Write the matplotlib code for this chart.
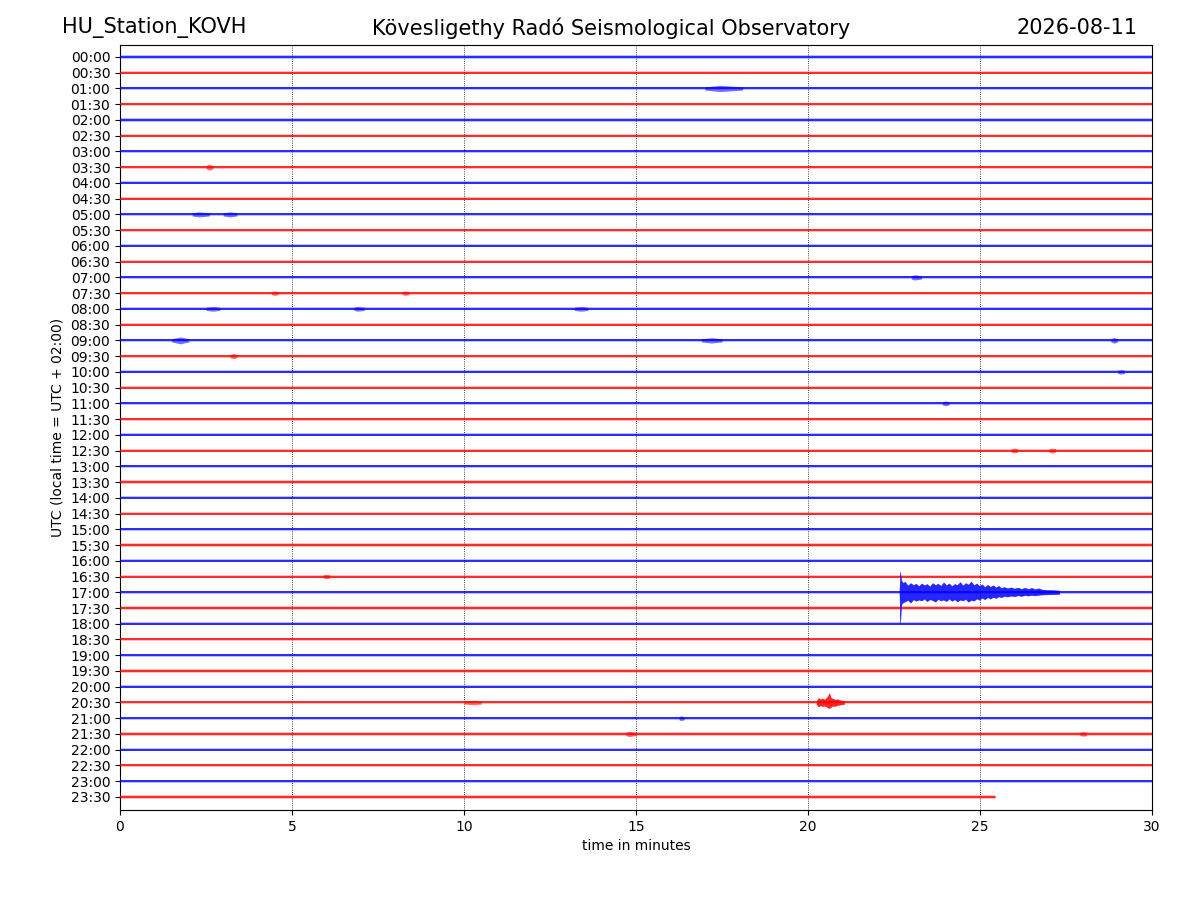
import matplotlib
matplotlib.use("Agg")
import matplotlib.pyplot as plt
import numpy as np

# ---------------- data ----------------
station = "HU_Station_KOVH"
observatory = "Kövesligethy Radó Seismological Observatory"
date_str = "2026-08-11"
row_labels = ["%02d:%02d" % (h, m) for h in range(24) for m in (0, 30)]
row_colors = ["blue", "red"] * 24
row_end_minutes = [30.0] * 47 + [25.43]      # last row stops early
noise_halfwidth = 0.10                       # background noise band (trace units)

# Earthquake on the 17:00 row (index 34): time (min), upward / downward envelope (trace units)
quake_row = 34
quake_t    = [22.66, 22.68, 22.70, 22.72, 22.76, 22.82, 22.90, 22.98, 23.06, 23.14, 23.22, 23.30,
              23.38, 23.46, 23.54, 23.62, 23.70, 23.78, 23.86, 23.94, 24.02, 24.10, 24.18, 24.26,
              24.34, 24.42, 24.50, 24.58, 24.66, 24.74, 24.82, 24.90, 24.98, 25.06, 25.14, 25.22,
              25.30, 25.38, 25.46, 25.54, 25.62, 25.70, 25.80, 25.90, 26.00, 26.10, 26.20, 26.30,
              26.40, 26.50, 26.60, 26.70, 26.80, 26.95, 27.10, 27.30]
quake_up   = [0.10, 1.30, 0.85, 0.70, 0.60, 0.66, 0.42, 0.58, 0.46, 0.54, 0.38, 0.56,
              0.44, 0.52, 0.36, 0.58, 0.46, 0.54, 0.40, 0.62, 0.44, 0.56, 0.38, 0.52,
              0.46, 0.64, 0.42, 0.58, 0.48, 0.68, 0.44, 0.56, 0.40, 0.50, 0.32, 0.47,
              0.34, 0.44, 0.30, 0.40, 0.26, 0.33, 0.25, 0.31, 0.23, 0.29, 0.21, 0.28,
              0.21, 0.27, 0.19, 0.25, 0.17, 0.14, 0.13, 0.11]
quake_down = [0.10, 1.95, 0.95, 0.72, 0.64, 0.58, 0.48, 0.65, 0.44, 0.54, 0.46, 0.52,
              0.40, 0.56, 0.44, 0.49, 0.59, 0.42, 0.52, 0.46, 0.56, 0.40, 0.54, 0.44,
              0.58, 0.46, 0.52, 0.42, 0.60, 0.48, 0.53, 0.39, 0.47, 0.34, 0.44, 0.31,
              0.40, 0.29, 0.36, 0.26, 0.31, 0.23, 0.27, 0.21, 0.25, 0.19, 0.23, 0.18,
              0.21, 0.17, 0.20, 0.16, 0.14, 0.13, 0.12, 0.10]

# Local event on the 20:30 row (index 41)
local_row = 41
local_t    = [20.25, 20.30, 20.36, 20.42, 20.48, 20.54, 20.58, 20.62, 20.66, 20.72, 20.78, 20.85, 20.93, 21.05]
local_up   = [0.10, 0.28, 0.20, 0.26, 0.18, 0.30, 0.42, 0.58, 0.30, 0.24, 0.18, 0.20, 0.14, 0.10]
local_down = [0.10, 0.25, 0.18, 0.22, 0.20, 0.26, 0.32, 0.35, 0.28, 0.20, 0.22, 0.16, 0.13, 0.10]

# Small bursts: row index, start, peak, end time (min), peak half-amplitude (trace units)
burst_row   = [2,    7,    10,   10,   14,    16,   16,   16,    18,   18,    18,    19,   22,    25,    25,    41,    42,    43,    43,   15,   15,   20,   33]
burst_start = [17.0, 2.5,  2.1,  3.0,  23.0,  2.5,  6.8,  13.2,  1.5,  16.9,  28.8,  3.2,  23.9,  25.9,  27.0,  10.0,  16.25, 14.7,  27.9, 4.4,  8.2,  29.0, 5.9]
burst_peak  = [17.45,2.6,  2.3,  3.2,  23.1,  2.7,  6.9,  13.4,  1.75, 17.2,  28.9,  3.3,  24.0,  26.0,  27.1,  10.3,  16.3,  14.8,  28.0, 4.5,  8.3,  29.1, 6.0]
burst_end   = [18.1, 2.7,  2.6,  3.4,  23.3,  2.9,  7.1,  13.6,  2.0,  17.5,  29.0,  3.4,  24.1,  26.1,  27.2,  10.5,  16.4,  15.0,  28.1, 4.6,  8.4,  29.2, 6.1]
burst_amp   = [0.20, 0.20, 0.16, 0.16, 0.17,  0.15, 0.15, 0.15,  0.22, 0.17,  0.18,  0.17, 0.15,  0.16,  0.16,  0.15,  0.15,  0.17,  0.15, 0.14, 0.14, 0.14, 0.14]

grid_minutes = [5, 10, 15, 20, 25]
x_ticks = [0, 5, 10, 15, 20, 25, 30]

# ---------------- figure ----------------
fig = plt.figure(figsize=(12, 9), dpi=100)
ax = fig.add_axes([0.1, 0.1, 0.86, 0.85])

for m in grid_minutes:
    ax.axvline(m, color="black", linestyle=":", linewidth=0.6, zorder=1)

for i, (col, tend) in enumerate(zip(row_colors, row_end_minutes)):
    ax.fill_between([0, tend], [i - noise_halfwidth] * 2, [i + noise_halfwidth] * 2,
                    color=col, alpha=0.25, linewidth=0, zorder=2)
    ax.plot([0, tend], [i, i], color=col, linewidth=1.1, zorder=3)

for r, t0, tp, t1, a in zip(burst_row, burst_start, burst_peak, burst_end, burst_amp):
    ax.fill_between([t0, tp, t1], [r - noise_halfwidth, r - a, r - noise_halfwidth],
                    [r + noise_halfwidth, r + a, r + noise_halfwidth],
                    color=row_colors[r], linewidth=0, alpha=0.55, zorder=3)

qt = np.array(quake_t)
ax.fill_between(qt, quake_row - np.array(quake_up), quake_row + np.array(quake_down),
                color=row_colors[quake_row], alpha=0.85, linewidth=0.4,
                edgecolor=row_colors[quake_row], zorder=4)
lt = np.array(local_t)
ax.fill_between(lt, local_row - np.array(local_up), local_row + np.array(local_down),
                color=row_colors[local_row], alpha=0.85, linewidth=0.4,
                edgecolor=row_colors[local_row], zorder=4)

ax.set_xlim(0, 30)
ax.set_ylim(47.83, -0.76)
ax.set_xticks(x_ticks)
ax.set_yticks(range(len(row_labels)))
ax.set_yticklabels(row_labels)
ax.set_xlabel("time in minutes")
ax.set_ylabel("UTC (local time = UTC + 02:00)")

fig.text(0.052, 0.969, station, fontsize=15, ha="left", va="center")
fig.text(0.509, 0.969, observatory, fontsize=15, ha="center", va="center")
fig.text(0.948, 0.969, date_str, fontsize=15, ha="right", va="center")

fig.savefig("out.png", dpi=100)
